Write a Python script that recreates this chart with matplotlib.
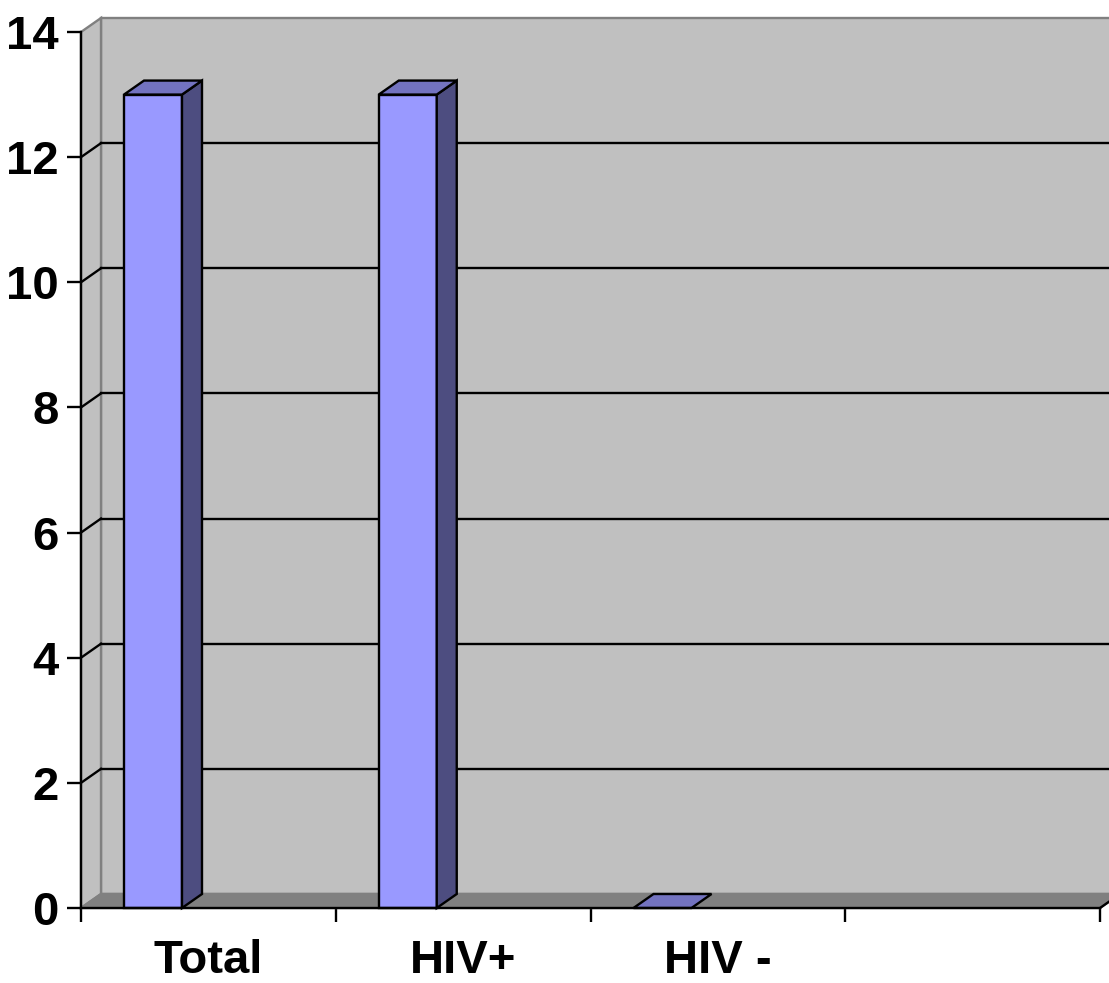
import matplotlib
matplotlib.use("Agg")
import matplotlib.pyplot as plt
from matplotlib.patches import Polygon

# ---- data ----
categories = ["Total", "HIV+", "HIV -", ""]
values = [13, 13, 0]
y_ticks = [0, 2, 4, 6, 8, 10, 12, 14]

# ---- styling ----
FRONT = "#9999FF"
TOP = "#7373C0"
SIDE = "#4D4D80"
WALL = "#C0C0C0"
FLOOR = "#808080"
EDGE_GREY = "#808080"
FONT = "Liberation Sans"
LW = 1.7

W, H = 1109, 983
fig = plt.figure(figsize=(W / 100, H / 100), dpi=100)
x0, x1, yb, yt = 81, 1100, 908, 32
ax = fig.add_axes([x0 / W, (H - yb) / H, (x1 - x0) / W, (yb - yt) / H])
n = len(categories)
ymax = y_ticks[-1]
ax.set_xlim(0, n)
ax.set_ylim(0, ymax)

# depth offset (pixels -> data units)
dx = 20 / ((x1 - x0) / n)
dy = 14 / ((yb - yt) / ymax)

def poly(pts, fc, ec, lw=LW, z=1):
    ax.add_patch(Polygon(pts, closed=True, facecolor=fc, edgecolor=ec,
                         linewidth=lw, clip_on=False, zorder=z, joinstyle="miter"))

# back wall
poly([(dx, dy), (n + dx, dy), (n + dx, ymax + dy), (dx, ymax + dy)], WALL, EDGE_GREY, LW, 1)
# left side wall
poly([(0, 0), (dx, dy), (dx, ymax + dy), (0, ymax)], WALL, EDGE_GREY, LW, 1)
# floor
poly([(0, 0), (n, 0), (n + dx, dy), (dx, dy)], FLOOR, EDGE_GREY, LW, 2)

# gridlines
for v in y_ticks[1:-1]:
    ax.plot([dx, n + dx], [v + dy, v + dy], color="black", lw=LW, clip_on=False, zorder=2)
    ax.plot([0, dx], [v, v + dy], color="black", lw=LW, clip_on=False, zorder=2)

# floor right diagonal
ax.plot([n, n + dx], [0, dy], color="black", lw=LW, clip_on=False, zorder=3)

# bars
off, bw = 43 / ((x1 - x0) / n), 58 / ((x1 - x0) / n)
for i, v in enumerate(values):
    L = i + off
    R = L + bw
    if v > 0:
        poly([(L, 0), (R, 0), (R, v), (L, v)], FRONT, "black", LW, 4)
        poly([(R, 0), (R + dx, dy), (R + dx, v + dy), (R, v)], SIDE, "black", LW, 4)
    poly([(L, v), (R, v), (R + dx, v + dy), (L + dx, v + dy)], TOP, "black", LW, 4)

# axes
for s in ["top", "right"]:
    ax.spines[s].set_visible(False)
for s in ["left", "bottom"]:
    ax.spines[s].set_color("black")
    ax.spines[s].set_linewidth(LW)
    ax.spines[s].set_zorder(5)
ax.patch.set_visible(False)

ax.set_yticks(y_ticks)
ax.set_yticklabels([str(t) for t in y_ticks])
ax.set_xticks(range(n + 1))
ax.set_xticklabels([])
ax.set_xticks([i + 0.5 for i in range(n)], minor=True)
ax.set_xticklabels(categories, minor=True)
ax.tick_params(axis="y", direction="out", length=10, width=LW, pad=6,
               labelsize=34)
ax.tick_params(axis="x", which="major", direction="out", length=10, width=LW)
ax.tick_params(axis="x", which="minor", length=0, pad=22, labelsize=34)
for lab in ax.get_yticklabels() + ax.get_xticklabels(minor=True):
    lab.set_fontfamily(FONT)
    lab.set_fontweight("bold")

fig.savefig("out.png", dpi=100)
